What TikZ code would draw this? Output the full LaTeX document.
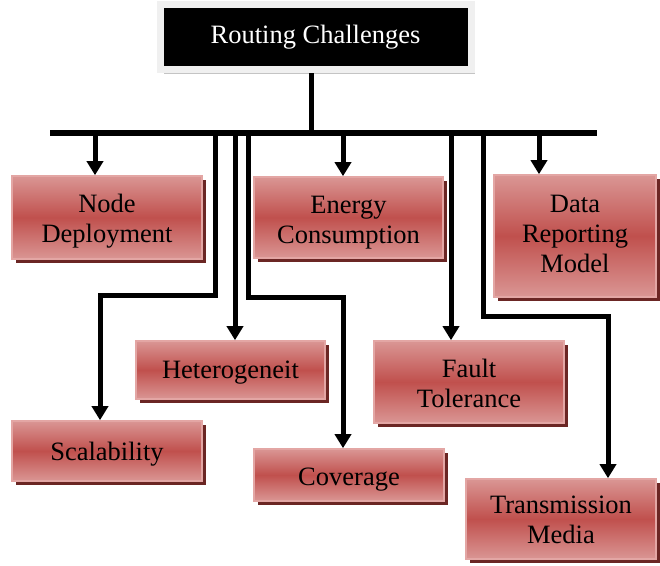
\documentclass[tikz,border=0pt]{standalone}
\usepackage{fontspec}
\setmainfont{Liberation Serif}
\usetikzlibrary{arrows.meta,shadows}
\definecolor{redmid}{HTML}{C0504D}
\definecolor{redlight}{HTML}{DA9694}
\definecolor{redborder}{HTML}{E3A6A4}
\definecolor{redshadow}{HTML}{6B2624}
\definecolor{framegray}{HTML}{F0F0F0}
\definecolor{framesh}{HTML}{C4C4C4}
\newcommand\boxtext[2]{\raisebox{#1}[\height][\depth]{\begin{tabular}{@{}c@{}}#2\end{tabular}}}
\tikzset{
  rbox/.style={draw=redborder, line width=1.6pt, top color=redlight, bottom color=redlight, middle color=redmid,
    shading=axis, inner sep=0pt, font=\fontsize{26.5}{30}\selectfont,
    drop shadow={shadow xshift=4pt, shadow yshift=-4pt, fill=redshadow, opacity=1}},
  topbox/.style={fill=black, draw=framegray, line width=7pt, inner sep=0pt, text=white,
    font=\fontsize{26.5}{30}\selectfont,
    drop shadow={shadow xshift=4pt, shadow yshift=-4pt, fill=framesh, opacity=1}},
  conn/.style={line width=5pt, line join=miter},
  arr/.style={line width=5pt, line join=miter, -{Triangle[length=14pt,width=16pt]}},
  barline/.style={line width=6pt}
}
\begin{document}
\begin{tikzpicture}[x=1pt,y=-1pt]
\useasboundingbox (0,0) rectangle (660,565);
% top
\node[topbox, minimum width=311pt, minimum height=65.5pt] (top) at (315.5,36.75) {Routing Challenges};
% boxes
\node[rbox, minimum width=190pt, minimum height=83pt] (nd) at (107,217.5) {\boxtext{-4pt}{Node\\Deployment}};
\node[rbox, minimum width=189pt, minimum height=81pt] (ec) at (348.5,217.5) {\boxtext{-5pt}{Energy\\Consumption}};
\node[rbox, minimum width=162pt, minimum height=122pt] (dr) at (575,236) {\boxtext{0pt}{Data\\Reporting\\Model}};
\node[rbox, minimum width=189pt, minimum height=58pt] (he) at (230.5,370) {\boxtext{-2pt}{Heterogeneit}};
\node[rbox, minimum width=190pt, minimum height=60pt] (sc) at (107,451) {\boxtext{-3pt}{Scalability}};
\node[rbox, minimum width=190pt, minimum height=52pt] (cv) at (349,475) {\boxtext{-4pt}{Coverage}};
\node[rbox, minimum width=190pt, minimum height=82pt] (ft) at (469,382) {\boxtext{-4pt}{Fault\\Tolerance}};
\node[rbox, minimum width=190pt, minimum height=80pt] (tm) at (561,519) {\boxtext{-3pt}{Transmission\\Media}};
% bar coordinates
\coordinate (barL) at (50,133);
\coordinate (barR) at (597,133);
\coordinate (stem) at (311,133);
\coordinate (b1) at (95,133);
\coordinate (b2) at (215,133);
\coordinate (b3) at (235,133);
\coordinate (b4) at (248,133);
\coordinate (b5) at (343,133);
\coordinate (b6) at (451,133);
\coordinate (b7) at (483,133);
\coordinate (b8) at (539,133);
\coordinate (k2a) at (215,295);
\coordinate (k2b) at (100,295);
\coordinate (k4a) at (248,297);
\coordinate (k4b) at (343,297);
\coordinate (k7a) at (483,316);
\coordinate (k7b) at (608,316);
% lines
\draw[conn] (stem |- top.south) -- (stem);
\draw[barline] (barL) -- (barR);
\draw[arr] (b1) -- (b1 |- nd.north);
\draw[arr] (b2) -- (k2a) -- (k2b) -- (k2b |- sc.north);
\draw[arr] (b3) -- (b3 |- he.north);
\draw[arr] (b4) -- (k4a) -- (k4b) -- (k4b |- cv.north);
\draw[arr] (b5) -- (b5 |- ec.north);
\draw[arr] (b6) -- (b6 |- ft.north);
\draw[arr] (b7) -- (k7a) -- (k7b) -- (k7b |- tm.north);
\draw[arr] (b8) -- (b8 |- dr.north);
\end{tikzpicture}
\end{document}
